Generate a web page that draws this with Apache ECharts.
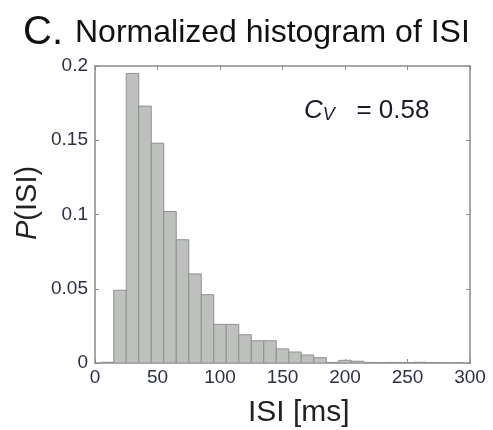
<!DOCTYPE html>
<html>
<head>
<meta charset="utf-8">
<script src="https://cdn.jsdelivr.net/npm/echarts@6/dist/echarts.min.js"></script>
<style>
html,body{margin:0;padding:0;background:#fff;}
#chart{width:493px;height:430px;}
</style>
</head>
<body>
<div id="chart"></div>
<script>
// Histogram bin centres (ms) and normalized probabilities
var binCenters = [10, 20, 30, 40, 50, 60, 70, 80, 90, 100, 110, 120, 130, 140, 150, 160, 170, 180, 190, 200, 210, 220, 230, 240, 250, 260, 270, 280, 290];
var probabilities = [0.0005, 0.049, 0.195, 0.173, 0.148, 0.102, 0.083, 0.060, 0.046, 0.026, 0.026, 0.019, 0.015, 0.015, 0.0095, 0.0074, 0.0054, 0.0036, 0.0004, 0.0018, 0.0012, 0.0004, 0.0003, 0.0004, 0.0003, 0.0005, 0.0003, 0.0002, 0.0003];
var binWidth = 10;
var xTicks = [0, 50, 100, 150, 200, 250, 300];
var yTicks = [0, 0.05, 0.1, 0.15, 0.2];
var cvValue = '0.58';

var histData = binCenters.map(function (c, i) { return [c, probabilities[i]]; });

var chart = echarts.init(document.getElementById('chart'), null, {renderer: 'canvas'});
var tickColor = '#2c3048';
var boxColor = '#8a8a8a';
var font = 'Liberation Sans, Arial, Helvetica, sans-serif';

var option = {
  backgroundColor: '#ffffff',
  animation: false,
  title: {
    left: 18,
    top: 8,
    text: '{c|C.}{n|Normalized histogram of ISI}',
    textStyle: {
      fontWeight: 'normal',
      rich: {
        c: {fontSize: 40, fontFamily: font, fontWeight: 'normal', color: '#111', padding: [0, 12, 0, 0]},
        n: {fontSize: 32, fontFamily: font, fontWeight: 'normal', color: '#111'}
      }
    }
  },
  grid: {left: 95, right: 23, top: 66, bottom: 67, containLabel: false},
  xAxis: [{
    type: 'value', min: 0, max: 300, interval: 50,
    axisLine: {show: true, onZero: false, lineStyle: {color: boxColor, width: 1.5}},
    axisTick: {show: true, inside: true, length: 4, lineStyle: {color: boxColor}},
    axisLabel: {color: tickColor, fontSize: 19, fontFamily: font, margin: 5,
      formatter: function (v) { return xTicks.indexOf(v) >= 0 ? String(v) : ''; }},
    splitLine: {show: false}
  }, {
    type: 'value', min: 0, max: 300, interval: 50, position: 'top',
    axisLine: {show: true, onZero: false, lineStyle: {color: boxColor, width: 1.5}},
    axisTick: {show: true, inside: true, length: 4, lineStyle: {color: boxColor}},
    axisLabel: {show: false}, splitLine: {show: false}
  }],
  yAxis: [{
    type: 'value', min: 0, max: 0.2, interval: 0.05,
    axisLine: {show: true, onZero: false, lineStyle: {color: boxColor, width: 1.5}},
    axisTick: {show: true, inside: true, length: 4, lineStyle: {color: boxColor}},
    axisLabel: {color: tickColor, fontSize: 19, fontFamily: font, margin: 7,
      formatter: function (v) {
        var r = Math.round(v * 100) / 100;
        return yTicks.indexOf(r) >= 0 ? String(r) : '';
      }},
    splitLine: {show: false}
  }, {
    type: 'value', min: 0, max: 0.2, interval: 0.05, position: 'right',
    axisLine: {show: true, onZero: false, lineStyle: {color: boxColor, width: 1.5}},
    axisTick: {show: true, inside: true, length: 4, lineStyle: {color: boxColor}},
    axisLabel: {show: false}, splitLine: {show: false}
  }],
  series: [{
    type: 'custom',
    xAxisIndex: 0, yAxisIndex: 0,
    clip: true,
    data: histData,
    renderItem: function (params, api) {
      var c = api.value(0), v = api.value(1);
      var p0 = api.coord([c - binWidth / 2, v]);
      var p1 = api.coord([c + binWidth / 2, 0]);
      var rect = echarts.graphic.clipRectByRect({
        x: p0[0], y: p0[1], width: p1[0] - p0[0], height: p1[1] - p0[1]
      }, {
        x: params.coordSys.x, y: params.coordSys.y,
        width: params.coordSys.width, height: params.coordSys.height
      });
      return rect && {
        type: 'rect',
        shape: rect,
        style: {fill: '#bdc0bd', stroke: '#8e908e', lineWidth: 1}
      };
    }
  }],
  graphic: [
    {
      type: 'text', left: 248, top: 398,
      style: {text: 'ISI [ms]', fontSize: 30, fontFamily: font, fill: '#222'}
    },
    {
      type: 'text', x: 13, y: 240, rotation: Math.PI / 2,
      style: {
        text: '{p|P}{n|(ISI)}',
        rich: {
          p: {fontSize: 29, fontFamily: font, fontStyle: 'italic', fill: '#222'},
          n: {fontSize: 29, fontFamily: font, fill: '#222'}
        }
      }
    },
    {
      type: 'text', left: 304, top: 98,
      style: {
        text: '{c|C}{v|V}{n|   = ' + cvValue + '}',
        rich: {
          c: {fontSize: 26, fontFamily: font, fontStyle: 'italic', fill: '#1a1a2a'},
          v: {fontSize: 18, fontFamily: font, fontStyle: 'italic', fill: '#1a1a2a', verticalAlign: 'bottom', padding: [8, 0, 0, 0]},
          n: {fontSize: 26, fontFamily: font, fill: '#1a1a2a'}
        }
      }
    }
  ]
};
chart.setOption(option);
</script>
</body>
</html>
